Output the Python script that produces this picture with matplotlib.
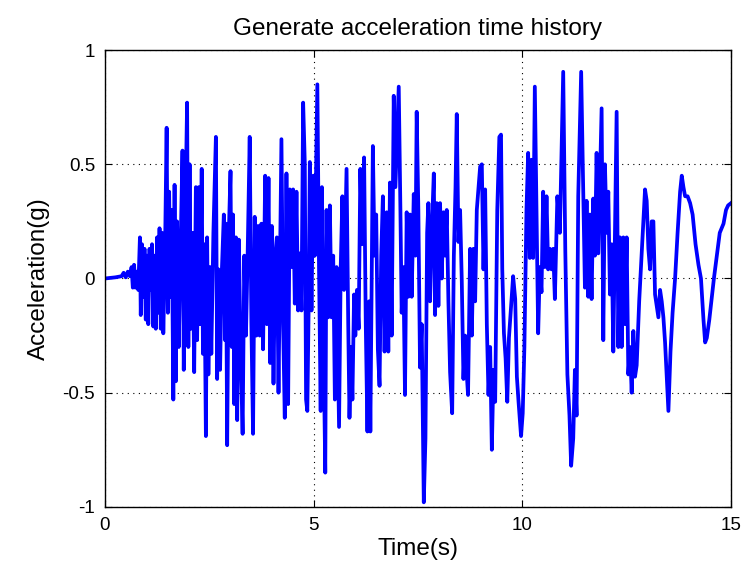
import matplotlib
matplotlib.use("Agg")
import matplotlib.pyplot as plt

plt.rcParams['font.family'] = ['Liberation Sans', 'DejaVu Sans']
plt.rcParams['axes.unicode_minus'] = False

# acceleration record (time in s, acceleration in g)
t_s = [
    0.00, 0.25, 0.40, 0.45, 0.50, 0.55, 0.60, 0.64, 0.67, 0.70, 0.73, 0.76, 0.80,
    0.84, 0.86, 0.89, 0.92, 0.95, 0.98, 1.01, 1.04, 1.07, 1.10, 1.13, 1.16, 1.19,
    1.22, 1.25, 1.28, 1.31, 1.34, 1.37, 1.40, 1.44, 1.48, 1.51, 1.54, 1.57, 1.60,
    1.64, 1.67, 1.70, 1.73, 1.77, 1.81, 1.86, 1.89, 1.93, 1.97, 2.00, 2.03, 2.06,
    2.10, 2.14, 2.18, 2.21, 2.25, 2.28, 2.32, 2.35, 2.38, 2.42, 2.45, 2.48, 2.52,
    2.55, 2.60, 2.66, 2.69, 2.72, 2.76, 2.80, 2.85, 2.88, 2.90, 2.93, 2.97, 3.01,
    3.04, 3.07, 3.10, 3.14, 3.17, 3.21, 3.25, 3.30, 3.34, 3.38, 3.42, 3.47, 3.51,
    3.55, 3.59, 3.63, 3.67, 3.71, 3.75, 3.79, 3.84, 3.88, 3.92, 3.96, 4.00, 4.04,
    4.08, 4.12, 4.16, 4.23, 4.27, 4.31, 4.35, 4.39, 4.43, 4.47, 4.51, 4.55, 4.59,
    4.63, 4.67, 4.71, 4.75, 4.79, 4.82, 4.85, 4.88, 4.91, 4.95, 4.99, 5.03, 5.09,
    5.13, 5.17, 5.20, 5.24, 5.28, 5.31, 5.35, 5.39, 5.43, 5.47, 5.51, 5.55, 5.59,
    5.61, 5.65, 5.69, 5.73, 5.79, 5.83, 5.86, 5.90, 5.93, 5.97, 6.00, 6.04, 6.08,
    6.12, 6.16, 6.21, 6.25, 6.29, 6.33, 6.36, 6.42, 6.46, 6.50, 6.54, 6.58, 6.62,
    6.66, 6.70, 6.75, 6.79, 6.83, 6.87, 6.92, 6.96, 7.04, 7.08, 7.11, 7.15, 7.19,
    7.23, 7.27, 7.31, 7.35, 7.40, 7.44, 7.47, 7.51, 7.55, 7.59, 7.64, 7.68, 7.72,
    7.75, 7.79, 7.83, 7.88, 7.91, 7.95, 7.99, 8.03, 8.07, 8.11, 8.15, 8.19, 8.23,
    8.27, 8.32, 8.36, 8.40, 8.43, 8.47, 8.51, 8.55, 8.59, 8.63, 8.67, 8.70, 8.75,
    8.79, 8.83, 8.87, 8.91, 8.99, 9.03, 9.07, 9.11, 9.15, 9.19, 9.23, 9.27, 9.31,
    9.35, 9.40, 9.45, 9.49, 9.52, 9.56, 9.60, 9.64, 9.68, 9.72, 9.78, 9.83, 9.87,
    9.91, 9.97, 10.01, 10.05, 10.10, 10.14, 10.18, 10.22, 10.26, 10.30, 10.34,
    10.38, 10.42, 10.46, 10.50, 10.54, 10.58, 10.62, 10.66, 10.70, 10.74, 10.78,
    10.84, 10.90, 10.98, 11.03, 11.08, 11.13, 11.17, 11.22, 11.26, 11.30, 11.34,
    11.41, 11.46, 11.50, 11.54, 11.58, 11.62, 11.66, 11.70, 11.74, 11.78, 11.82,
    11.90, 11.94, 11.98, 12.02, 12.06, 12.10, 12.14, 12.18, 12.26, 12.30, 12.34,
    12.38, 12.42, 12.46, 12.50, 12.54, 12.58, 12.62, 12.66, 12.70, 12.74, 12.80,
    12.86, 12.94, 12.98, 13.02, 13.06, 13.10, 13.14, 13.18, 13.22, 13.26, 13.30,
    13.34, 13.38, 13.42, 13.50, 13.55, 13.60, 13.66, 13.72, 13.78, 13.82, 13.86,
    13.90, 13.96, 14.02, 14.08, 14.15, 14.22, 14.28, 14.34, 14.38, 14.42, 14.48,
    14.54, 14.59, 14.66, 14.73, 14.82, 14.88, 14.93, 15.00,
]
acc_g = [
    0.00, 0.005, 0.01, 0.025, 0.005, 0.03, 0.01, 0.05, -0.04, 0.06, -0.04, 0.03, -0.05,
    0.18, -0.16, 0.15, -0.08, 0.13, -0.18, 0.10, -0.20, 0.13, -0.05, 0.15, -0.21, 0.10,
    -0.22, 0.18, -0.15, 0.22, -0.22, 0.20, -0.24, 0.10, 0.66, -0.15, 0.38, -0.08, 0.30,
    -0.53, 0.41, -0.45, 0.25, -0.30, 0.10, 0.56, -0.40, 0.30, 0.77, -0.30, 0.50, -0.22,
    0.20, -0.41, 0.40, -0.27, 0.40, -0.20, 0.48, -0.33, 0.15, -0.69, 0.18, -0.42, 0.05,
    -0.33, 0.20, 0.62, -0.44, 0.04, -0.40, 0.02, 0.28, -0.27, 0.24, -0.73, 0.20, 0.47,
    -0.30, 0.28, -0.55, 0.18, -0.62, 0.17, -0.30, -0.68, 0.10, -0.25, 0.10, 0.62, -0.20,
    -0.68, 0.27, -0.25, 0.23, -0.25, 0.24, -0.31, 0.45, -0.20, 0.44, -0.37, 0.23, -0.46,
    0.10, 0.18, -0.50, 0.61, -0.20, -0.61, 0.46, -0.55, 0.39, 0.05, 0.39, -0.11, 0.38,
    -0.14, 0.11, -0.14, 0.77, 0.50, -0.53, -0.58, -0.15, 0.51, -0.14, 0.45, 0.10, 0.85,
    0.05, -0.58, 0.40, -0.30, -0.85, 0.30, -0.17, 0.32, -0.17, 0.10, -0.53, 0.05, -0.40,
    -0.65, 0.05, 0.36, -0.05, 0.48, -0.20, -0.61, -0.30, -0.53, -0.07, -0.25, -0.05, -0.22,
    0.48, 0.15, 0.53, -0.20, -0.67, -0.10, -0.67, 0.58, 0.10, 0.28, -0.31, -0.47, 0.10,
    0.36, -0.32, 0.29, -0.32, 0.42, -0.25, 0.80, 0.40, 0.84, 0.30, -0.15, 0.05, -0.51,
    0.29, -0.08, 0.28, -0.08, 0.37, 0.10, 0.73, 0.30, -0.39, -0.20, -0.98, -0.70, 0.20,
    0.33, -0.10, 0.20, 0.46, -0.16, 0.33, -0.12, 0.33, 0.00, 0.29, 0.10, 0.30, -0.10,
    -0.41, -0.59, 0.10, 0.40, 0.72, 0.16, 0.30, -0.01, -0.44, -0.25, -0.42, -0.51, 0.13,
    -0.25, 0.13, -0.10, 0.30, 0.49, 0.50, 0.04, 0.39, -0.20, -0.51, -0.30, -0.75, -0.40,
    -0.54, 0.30, 0.62, 0.63, 0.04, -0.24, -0.35, -0.54, -0.26, -0.15, 0.01, -0.09, -0.43,
    -0.54, -0.69, -0.59, -0.30, 0.30, 0.55, 0.09, 0.52, 0.09, 0.84, 0.30,
    -0.24, 0.05, -0.06, 0.38, 0.05, 0.36, 0.04, 0.13, 0.04, 0.13, -0.09,
    0.36, 0.20, 0.905, 0.12, -0.42, -0.60, -0.82, -0.70, -0.40, -0.60, 0.36,
    0.905, 0.37, -0.04, 0.34, -0.08, 0.28, -0.09, 0.35, 0.10, 0.55, 0.11,
    0.745, -0.27, 0.50, 0.20, 0.38, -0.07, 0.15, -0.32, 0.73, -0.30, 0.18,
    -0.30, 0.18, -0.20, 0.18, -0.42, -0.30, -0.50, -0.23, -0.43, -0.38, -0.10,
    0.11, 0.39, 0.34, 0.13, 0.04, 0.25, 0.25, -0.07, -0.12, -0.17, -0.05,
    -0.10, -0.17, -0.28, -0.58, -0.32, -0.15, 0.00, 0.20, 0.38, 0.45, 0.40,
    0.36, 0.36, 0.33, 0.28, 0.15, 0.06, 0.00, -0.18, -0.28, -0.26, -0.18,
    -0.08, 0.00, 0.10, 0.20, 0.24, 0.30, 0.32, 0.33,
]

x_ticks = [0, 5, 10, 15]
y_ticks = [-1, -0.5, 0, 0.5, 1]
y_tick_labels = ['-1', '-0.5', '0', '0.5', '1']

fig = plt.figure(figsize=(7.49, 5.76), dpi=100)
ax = fig.add_axes([0.140, 0.120, 0.836, 0.793])

ax.plot(t_s, acc_g, color='#0000ff', linewidth=2.7)

ax.set_xlim(0, 15)
ax.set_ylim(-1, 1)
ax.set_xticks(x_ticks)
ax.set_xticklabels([str(v) for v in x_ticks])
ax.set_yticks(y_ticks)
ax.set_yticklabels(y_tick_labels)
ax.tick_params(direction='in', top=True, right=True, labelsize=13.5, length=5, pad=7)
ax.grid(True, color='black', linestyle=(0, (1, 4)), linewidth=0.8)
for s in ax.spines.values():
    s.set_linewidth(1.0)

ax.set_title('Generate acceleration time history', fontsize=17.5, pad=11)
ax.set_xlabel('Time(s)', fontsize=17.5, labelpad=3)
ax.set_ylabel('Acceleration(g)', fontsize=17.5, labelpad=9)

fig.savefig('out.png', dpi=100)
